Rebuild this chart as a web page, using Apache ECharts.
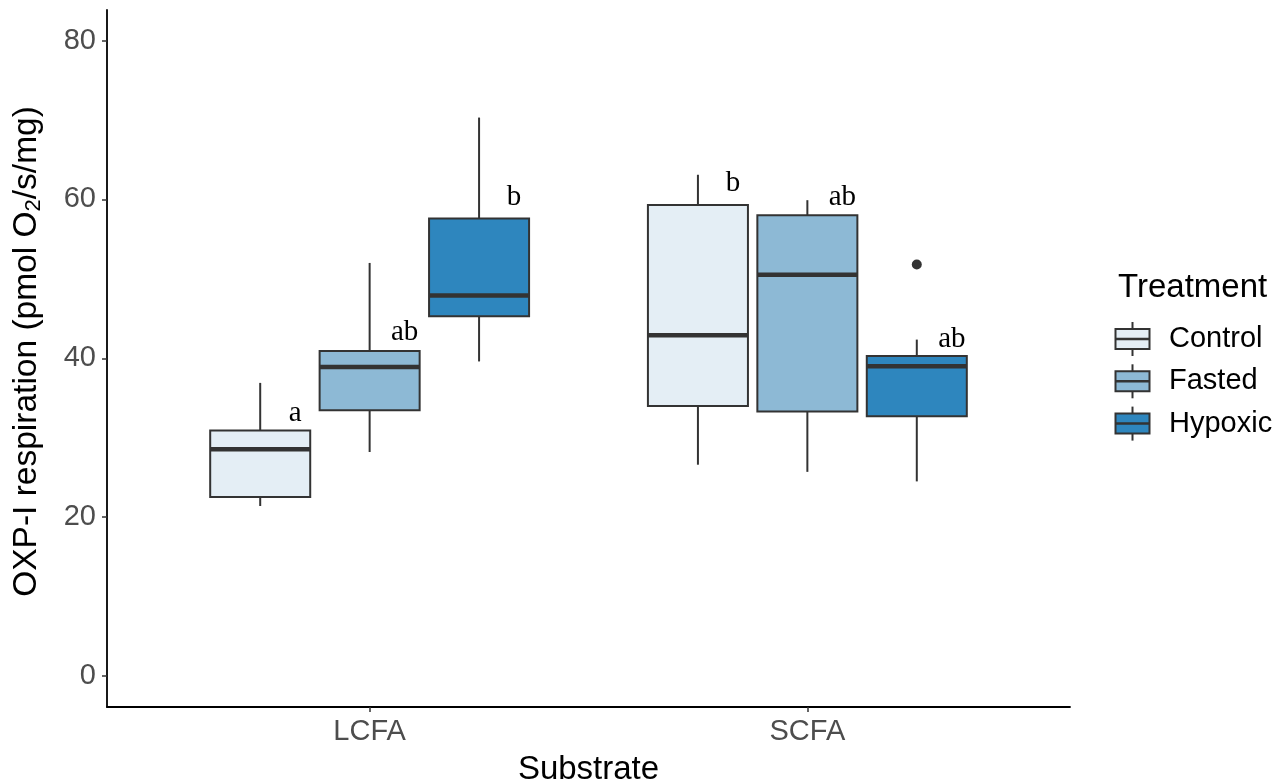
<!DOCTYPE html>
<html>
<head>
<meta charset="utf-8">
<script src="https://cdn.jsdelivr.net/npm/echarts@6/dist/echarts.min.js"></script>
<style>
html,body{margin:0;padding:0;background:#fff;overflow:hidden;}
#chart{width:1288px;height:782px;}
</style>
</head>
<body>
<div id="chart"></div>
<script>
// ---- data ----
const substrates = ['LCFA', 'SCFA'];
const treatments = ['Control', 'Fasted', 'Hypoxic'];
// [min, Q1, median, Q3, max] per substrate
const controlBox = [[21.4, 22.55, 28.55, 30.9, 36.9], [26.6, 34.0, 42.9, 59.3, 63.1]];
const fastedBox  = [[28.2, 33.46, 38.9, 40.9, 52.0], [25.7, 33.3, 50.5, 58.0, 59.9]];
const hypoxicBox = [[39.6, 45.3, 47.9, 57.6, 70.3], [24.5, 32.7, 39.0, 40.3, 42.35]];
const outlierSubstrate = ['SCFA'];
const outlierTreatment = ['Hypoxic'];
const outlierValue = [51.8];
const controlLetters = ['a', 'b'];
const fastedLetters = ['ab', 'ab'];
const hypoxicLetters = ['b', 'ab'];
const controlLetterY = [31.8, 60.7];
const fastedLetterY = [42.05, 58.95];
const hypoxicLetterY = [59.0, 41.1];
const yTicks = [0, 20, 40, 60, 80];

// ---- styles ----
const fillColors = ['#E4EEF5', '#8DB9D5', '#2E86BE'];
const lineColor = '#333333';
const dodge = [-0.25, 0, 0.25];
const boxWidth = 0.2285;

const boxes = [controlBox, fastedBox, hypoxicBox];
const letters = [controlLetters, fastedLetters, hypoxicLetters];
const letterYs = [controlLetterY, fastedLetterY, hypoxicLetterY];

function boxRender(params, api) {
  const x = api.value(0);
  const pMin = api.coord([x, api.value(1)]);
  const pQ1 = api.coord([x, api.value(2)]);
  const pMed = api.coord([x, api.value(3)]);
  const pQ3 = api.coord([x, api.value(4)]);
  const pMax = api.coord([x, api.value(5)]);
  const hw = api.size([boxWidth, 0])[0] / 2;
  const cx = pMed[0];
  const fill = api.visual('color');
  return {
    type: 'group',
    children: [
      {type: 'line', shape: {x1: cx, y1: pMax[1], x2: cx, y2: pQ3[1]}, style: {stroke: lineColor, lineWidth: 2}},
      {type: 'line', shape: {x1: cx, y1: pQ1[1], x2: cx, y2: pMin[1]}, style: {stroke: lineColor, lineWidth: 2}},
      {type: 'rect', shape: {x: cx - hw, y: pQ3[1], width: 2 * hw, height: pQ1[1] - pQ3[1]},
       style: {fill: fill, stroke: lineColor, lineWidth: 2}},
      {type: 'line', shape: {x1: cx - hw, y1: pMed[1], x2: cx + hw, y2: pMed[1]}, style: {stroke: lineColor, lineWidth: 4.5}}
    ]
  };
}

function makeLetterRender(ti) {
  return function (params, api) {
    const p = api.coord([api.value(0), api.value(1)]);
    return {
      type: 'text',
      x: p[0], y: p[1] - 10,
      style: {
        text: letters[ti][params.dataIndex],
        font: '29px "Liberation Serif", "DejaVu Serif", serif',
        fill: '#000',
        align: 'center',
        verticalAlign: 'middle'
      }
    };
  };
}

const series = [];
treatments.forEach((t, ti) => {
  series.push({
    name: t,
    type: 'custom',
    renderItem: boxRender,
    itemStyle: {color: fillColors[ti]},
    encode: {x: 0, y: [1, 2, 3, 4, 5]},
    data: substrates.map((s, si) => [si + 1 + dodge[ti]].concat(boxes[ti][si])),
    z: 2
  });
  series.push({
    name: t + ' letters',
    type: 'custom',
    renderItem: makeLetterRender(ti),
    encode: {x: 0, y: 1},
    data: substrates.map((s, si) => [si + 1 + dodge[ti] + 0.08, letterYs[ti][si]]),
    z: 3
  });
});
series.push({
  type: 'scatter',
  symbol: 'circle',
  symbolSize: 10,
  itemStyle: {color: lineColor, opacity: 1},
  data: outlierValue.map((v, i) => [substrates.indexOf(outlierSubstrate[i]) + 1 + dodge[treatments.indexOf(outlierTreatment[i])], v]),
  z: 4
});

// legend drawn as graphics
const legendChildren = [{
  type: 'text', x: 1118, y: 288,
  style: {text: 'Treatment', font: '33px "Liberation Sans", Arial, sans-serif', fill: '#000', verticalAlign: 'middle'}
}];
treatments.forEach((t, i) => {
  const cy = 339 + i * 42.3;
  const cx = 1132.5;
  legendChildren.push(
    {type: 'line', shape: {x1: cx, y1: cy - 17, x2: cx, y2: cy + 17}, style: {stroke: lineColor, lineWidth: 2}},
    {type: 'rect', shape: {x: 1115.5, y: cy - 10, width: 34, height: 20}, style: {fill: fillColors[i], stroke: lineColor, lineWidth: 2}},
    {type: 'line', shape: {x1: 1115.5, y1: cy, x2: 1149.5, y2: cy}, style: {stroke: lineColor, lineWidth: 2.5}},
    {type: 'text', x: 1169, y: cy, style: {text: t, font: '29px "Liberation Sans", Arial, sans-serif', fill: '#000', verticalAlign: 'middle'}}
  );
});

const chart = echarts.init(document.getElementById('chart'), null, {renderer: 'canvas', width: 1288, height: 782});
chart.setOption({
  backgroundColor: '#fff',
  animation: false,
  grid: {left: 107, width: 963, top: 10, height: 697, containLabel: false, outerBoundsMode: 'none'},
  xAxis: {
    type: 'value', min: 0.4, max: 2.6,
    name: 'Substrate', nameLocation: 'middle', nameGap: 46,
    nameTextStyle: {fontSize: 33, color: '#000', fontFamily: 'Liberation Sans'},
    axisLine: {show: true, onZero: false, lineStyle: {color: '#000', width: 1.8}},
    axisTick: {show: true, customValues: [1, 2], length: 5, lineStyle: {color: lineColor, width: 1.5}},
    axisLabel: {show: true, customValues: [1, 2], margin: 10, fontSize: 29, color: '#4D4D4D', fontFamily: 'Liberation Sans',
      formatter: v => substrates[Math.round(v) - 1]},
    splitLine: {show: false}
  },
  yAxis: {
    type: 'value', min: -3.9, max: 83.84,
    name: 'OXP-I respiration (pmol O{sub|2}/s/mg)', nameLocation: 'middle', nameGap: 62,
    nameTextStyle: {fontSize: 33.5, color: '#000', fontFamily: 'Liberation Sans', lineHeight: 37, padding: [0, 0, 0, 14],
      rich: {sub: {fontSize: 22, lineHeight: 22, verticalAlign: 'bottom', color: '#000', fontFamily: 'Liberation Sans'}}},
    axisLine: {show: true, onZero: false, lineStyle: {color: '#000', width: 1.8}},
    axisTick: {show: true, customValues: yTicks, length: 5, lineStyle: {color: lineColor, width: 1.5}},
    axisLabel: {show: true, customValues: yTicks, margin: 11, fontSize: 29, color: '#4D4D4D', fontFamily: 'Liberation Sans'},
    splitLine: {show: false}
  },
  graphic: [{type: 'group', children: legendChildren}],
  series: series
});
</script>
</body>
</html>
